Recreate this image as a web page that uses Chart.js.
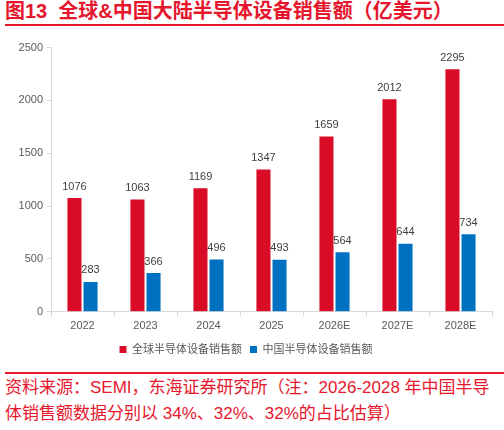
<!DOCTYPE html>
<html>
<head>
<meta charset="utf-8">
<script src="https://cdn.jsdelivr.net/npm/chart.js@4.4.0/dist/chart.umd.min.js"></script>
<style>
  html, body { margin: 0; padding: 0; background: #fff; }
  body { width: 504px; height: 430px; position: relative; overflow: hidden;
         font-family: "Liberation Sans", "Noto Sans CJK SC", sans-serif; }
  #title { position: absolute; left: 5px; top: 0; height: 22px; line-height: 22px;
           font-family: "Liberation Sans", "Noto Sans CJK SC", sans-serif;
           font-weight: bold; font-size: 20px; color: #E6162D; white-space: nowrap; }
  .rule { position: absolute; left: 5px; right: 0; height: 2px; background: #E6162D; }
  #wrap { position: absolute; left: 0; top: 37px; width: 504px; height: 328px; }
  #source { position: absolute; left: 5px; top: 375px; width: 499px; overflow: hidden;
            font-size: 17px; line-height: 26px; color: #E6162D; white-space: nowrap;
            font-family: "Liberation Sans", "Noto Sans CJK SC", sans-serif; }
</style>
</head>
<body>
<div id="title">图13&nbsp;&nbsp;全球&amp;中国大陆半导体设备销售额（亿美元）</div>
<div class="rule" style="top:24px"></div>
<div id="wrap"><canvas id="c"></canvas></div>
<div class="rule" style="top:372px;height:1.5px"></div>
<div id="source">
  <div>资料来源：SEMI，东海证券研究所（注：2026-2028 年中国半导</div>
  <div>体销售额数据分别以 34%、32%、32%的占比估算）</div>
</div>
<script>
const years = ["2022", "2023", "2024", "2025", "2026E", "2027E", "2028E"];
const globalSales = [1076, 1063, 1169, 1347, 1659, 2012, 2295];
const chinaSales = [283, 366, 496, 493, 564, 644, 734];
const yTicks = [0, 500, 1000, 1500, 2000, 2500];

const RED = "#D90B26";
const BLUE = "#0070C0";
const AXIS = "#D9D9D9";
const TXT = "#595959";

// simple value labels above each bar
const barValues = {
  id: "barValues",
  afterDatasetsDraw(chart) {
    const ctx = chart.ctx;
    ctx.save();
    ctx.font = "11px 'Liberation Sans', sans-serif";
    ctx.fillStyle = "#404040";
    ctx.textAlign = "center";
    ctx.textBaseline = "bottom";
    chart.data.datasets.forEach((ds, i) => {
      chart.getDatasetMeta(i).data.forEach((bar, j) => {
        ctx.fillText(String(ds.data[j]), bar.x, bar.y - 6);
      });
    });
    ctx.restore();
  }
};

new Chart(document.getElementById("c"), {
  type: "bar",
  data: {
    labels: years,
    datasets: [
      { label: "全球半导体设备销售额", data: globalSales, backgroundColor: RED,
        categoryPercentage: 0.51, barPercentage: 0.875 },
      { label: "中国半导体设备销售额", data: chinaSales, backgroundColor: BLUE,
        categoryPercentage: 0.51, barPercentage: 0.875 }
    ]
  },
  options: {
    responsive: true,
    maintainAspectRatio: false,
    animation: false,
    layout: { padding: { top: 10, right: 12, left: 0, bottom: 0 } },
    plugins: {
      tooltip: { enabled: false },
      legend: {
        position: "bottom",
        labels: {
          color: TXT,
          font: { family: "'Liberation Sans', 'Noto Sans CJK SC', sans-serif", size: 11 },
          boxWidth: 7, boxHeight: 7, padding: 8
        }
      }
    },
    scales: {
      x: {
        grid: { display: true, offset: true, drawOnChartArea: false, color: AXIS, tickLength: 5 },
        border: { color: AXIS },
        ticks: { color: TXT, font: { family: "'Liberation Sans', sans-serif", size: 11 }, padding: 3 }
      },
      y: {
        min: 0, max: 2500,
        afterBuildTicks: (axis) => { axis.ticks = yTicks.map(v => ({ value: v })); },
        afterFit: (axis) => { axis.width = 51; },
        grid: { display: true, drawOnChartArea: false, color: AXIS, tickLength: 4 },
        border: { color: AXIS },
        ticks: { color: TXT, font: { family: "'Liberation Sans', sans-serif", size: 11 }, padding: 4,
                 callback: (v) => String(v) }
      }
    }
  },
  plugins: [barValues]
});
</script>
</body>
</html>
